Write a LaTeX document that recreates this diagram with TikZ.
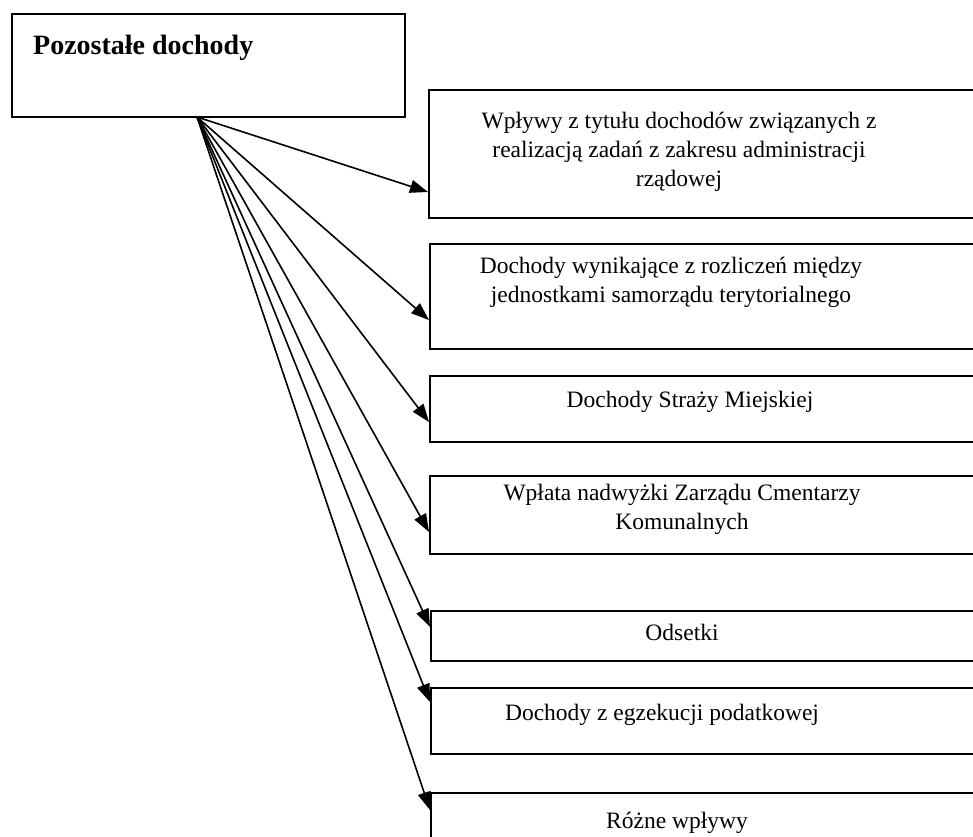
\documentclass[tikz,border=0pt]{standalone}
\usepackage{fontspec}
\setmainfont{Liberation Serif}
\usetikzlibrary{arrows.meta,calc}
\tikzset{
  box/.style={draw=black, line width=2pt, inner sep=0pt, anchor=north west, minimum width=562pt},
  txt/.style={inner sep=0pt, align=center, font=\fontsize{23.5}{29}\selectfont},
  conn/.style={line width=1.6pt, -{Triangle[length=18pt,width=13pt]}}
}
\begin{document}
\begin{tikzpicture}[x=1pt,y=-1pt]
\clip (0,0) rectangle (973,836);
\fill[white] (0,0) rectangle (973,836);
% main box
\node[draw=black, line width=2pt, inner sep=0pt, anchor=north west, minimum width=393pt, minimum height=103pt] (main) at (11,13) {};
\node[anchor=base west, inner sep=0pt, font=\fontsize{28}{33}\selectfont\bfseries] (title) at (33,54) {Pozostałe dochody};
\coordinate (src) at (197,117);
% target boxes
\node[box, minimum height=128pt] (b1) at (428,89) {};
\node[box, minimum height=105pt] (b2) at (429,243) {};
\node[box, minimum height=66pt] (b3) at (429,375) {};
\node[box, minimum height=78pt] (b4) at (429,475) {};
\node[box, minimum height=50pt] (b5) at (430,610) {};
\node[box, minimum height=66pt] (b6) at (430,687) {};
\node[box, minimum height=110pt] (b7) at (430,792) {};
% texts
\node[txt, anchor=north] (t1) at (679,112) {Wpływy z tytułu dochodów związanych z\\realizacją zadań z zakresu administracji\\rządowej};
\node[txt, anchor=north] (t2) at (671,257) {Dochody wynikające z rozliczeń między\\jednostkami samorządu terytorialnego};
\node[txt, anchor=base] (t3) at (690,407) {Dochody Straży Miejskiej};
\node[txt, anchor=north] (t4) at (682,484) {Wpłata nadwyżki Zarządu Cmentarzy\\Komunalnych};
\node[txt, anchor=base] (t5) at (682,640) {Odsetki};
\node[txt, anchor=base] (t6) at (662,720) {Dochody z egzekucji podatkowej};
\node[txt, anchor=base] (t7) at (677,828) {Różne wpływy};
% arrows
\draw[conn] (src) -- ($(b1.north west)+(0,103)$);
\draw[conn] (src) -- ($(b2.north west)+(0,77)$);
\draw[conn] (src) -- ($(b3.north west)+(0,47)$);
\draw[conn] (src) -- ($(b4.north west)+(0,57)$);
\draw[conn] (src) -- ($(b5.north west)+(0,17)$);
\draw[conn] (src) -- ($(b6.north west)+(0,15)$);
\draw[conn] (src) -- ($(b7.north west)+(0,18)$);
\end{tikzpicture}
\end{document}
